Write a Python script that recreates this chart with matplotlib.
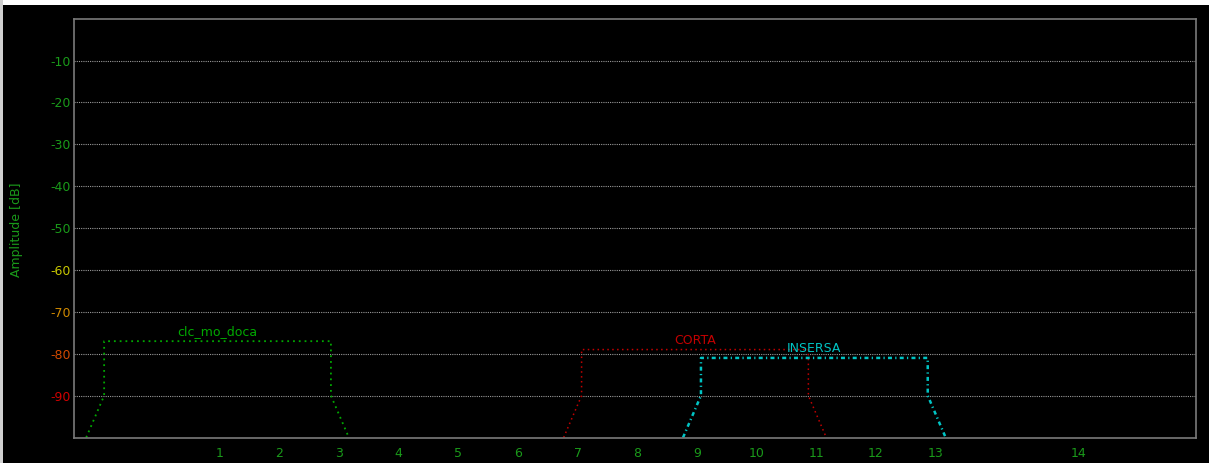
import matplotlib
matplotlib.use("Agg")
import matplotlib.pyplot as plt
from matplotlib.patches import Rectangle
from matplotlib.transforms import ScaledTranslation

# Data
networks = ["clc_mo_doca", "CORTA", "INSERSA"]
centers_mhz = [2412, 2452, 2462]
levels_db = [-77, -79, -81]
colors = ["#00a800", "#c40000", "#00c4c4"]
styles = [(0, (1, 2.2)), (0, (1, 2.2)), (0, (1.6, 1.3, 0.5, 1.3))]
widths = [1.3, 1.1, 1.8]

channel_labels = [str(c) for c in range(1, 15)]
channel_freqs = [2412 + 5 * i for i in range(13)] + [2484]
ytick_vals = [-10, -20, -30, -40, -50, -60, -70, -80, -90]
ytick_colors = ["#1a9a1a", "#1a9a1a", "#1a9a1a", "#1a9a1a", "#1a9a1a",
                "#c8c800", "#d08a00", "#d24a00", "#d00000"]

fig = plt.figure(figsize=(12.09, 4.63), dpi=100, facecolor="black")
ax = fig.add_axes([74.3 / 1209, 1 - 437.5 / 463, (1196.3 - 74.3) / 1209, (437.5 - 18.7) / 463])
ax.set_facecolor("black")
ax.set_xlim(2400, 2494)
ax.set_ylim(-100, 0)

for name, c, lv, col, ls, lw in zip(networks, centers_mhz, levels_db, colors, styles, widths):
    xs = [c - 11, c - 9.5, c - 9.5, c + 9.5, c + 9.5, c + 11]
    ys = [-100, -90, lv, lv, -90, -100]
    ax.plot(xs, ys, color=col, linestyle=ls, linewidth=lw, clip_on=True)
    ax.annotate(name, (c, lv), xytext=(0, 2), textcoords="offset points",
                ha="center", va="bottom", color=col, fontsize=9)

for v in ytick_vals:
    ax.axhline(v, color="#9a9a9a", linestyle=(0, (1, 1)), linewidth=0.8, zorder=0)

ax.set_yticks(ytick_vals)
ax.set_yticklabels([str(v) for v in ytick_vals], fontsize=9)
for lab, col in zip(ax.get_yticklabels(), ytick_colors):
    lab.set_color(col)
ax.set_xticks(channel_freqs)
ax.set_xticklabels(channel_labels, fontsize=9, color="#1a9a1a")
ax.tick_params(axis="both", length=0)
ax.tick_params(axis="y", pad=2.5)
ax.tick_params(axis="x", pad=7)
shift = ScaledTranslation(2 / 100, 0, fig.dpi_scale_trans)
for lab in ax.get_xticklabels():
    lab.set_transform(lab.get_transform() + shift)
for s in ax.spines.values():
    s.set_color("#7a7a7a")
    s.set_linewidth(1.2)

fig.text(17 / 1209, 1 - 230 / 463, "Amplitude [dB]", rotation=90, color="#1a9a1a",
         fontsize=9, ha="center", va="center")

fig.patches.append(Rectangle((0, 1 - 5 / 463), 1, 5 / 463, transform=fig.transFigure,
                             facecolor="white", edgecolor="none"))
fig.patches.append(Rectangle((0, 0), 3 / 1209, 1, transform=fig.transFigure,
                             facecolor="#d0d0d0", edgecolor="none"))

fig.savefig("out.png", dpi=100, facecolor="black")
